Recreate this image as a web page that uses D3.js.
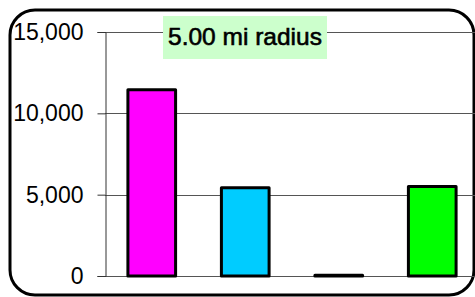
<!DOCTYPE html>
<html>
<head>
<meta charset="utf-8">
<script src="https://cdn.jsdelivr.net/npm/d3@7"></script>
<style>
  body { margin: 0; background: #fff; }
  svg { display: block; font-family: "Liberation Sans", Arial, sans-serif; }
</style>
</head>
<body>
<script>
var categories = ["A", "B", "C", "D"];
var values = [11450, 5430, 50, 5500];
var colors = ["#ff00ff", "#00ccff", "#000000", "#00ff00"];
var yTicks = [0, 5000, 10000, 15000];
var title = "5.00 mi radius";

var W = 475, H = 297;
var svg = d3.select("body").append("svg").attr("width", W).attr("height", H);

var x = d3.scaleBand().domain(categories).range([105, 479]).paddingInner(0.49).paddingOuter(0.245);
var y = d3.scaleLinear().domain([0, 15000]).range([276, 32]);

// outer rounded frame
svg.append("rect")
  .attr("x", 10).attr("y", 10)
  .attr("width", 464).attr("height", 285)
  .attr("rx", 25).attr("ry", 25)
  .attr("fill", "#fff").attr("stroke", "#000").attr("stroke-width", 3);

// gridlines
svg.append("g").selectAll("line").data(yTicks).enter().append("line")
  .attr("x1", 105).attr("x2", W)
  .attr("y1", function(d){ return Math.round(y(d)) + 0.5; })
  .attr("y2", function(d){ return Math.round(y(d)) + 0.5; })
  .attr("stroke", "#555").attr("stroke-width", 1);

// y axis
var yAxis = d3.axisLeft(y).tickValues(yTicks).tickSize(8).tickFormat(d3.format(","));
var ga = svg.append("g").attr("transform", "translate(105.5,0)").call(yAxis);
ga.select(".domain").attr("stroke", "#333");
ga.selectAll(".tick line").attr("stroke", "#333");
ga.selectAll(".tick text").attr("font-size", 23).attr("fill", "#000")
  .attr("x", -22).attr("font-family", "Liberation Sans, Arial, sans-serif");

// bars
svg.append("g").selectAll("rect").data(values).enter().append("rect")
  .attr("x", function(d, i){ return x(categories[i]); })
  .attr("width", x.bandwidth())
  .attr("y", function(d){ return y(d); })
  .attr("height", function(d){ return Math.max(0, y(0) - y(d)); })
  .attr("fill", function(d, i){ return colors[i]; })
  .attr("stroke", "#000").attr("stroke-width", 3).attr("stroke-linejoin", "round");

// title box
svg.append("rect").attr("x", 163).attr("y", 16).attr("width", 164).attr("height", 43)
  .attr("fill", "#ccffcc");
svg.append("text").attr("x", 245).attr("y", 45).attr("text-anchor", "middle")
  .attr("font-size", 24.5).attr("fill", "#000")
  .attr("stroke", "#000").attr("stroke-width", 0.6)
  .text(title);
</script>
</body>
</html>
